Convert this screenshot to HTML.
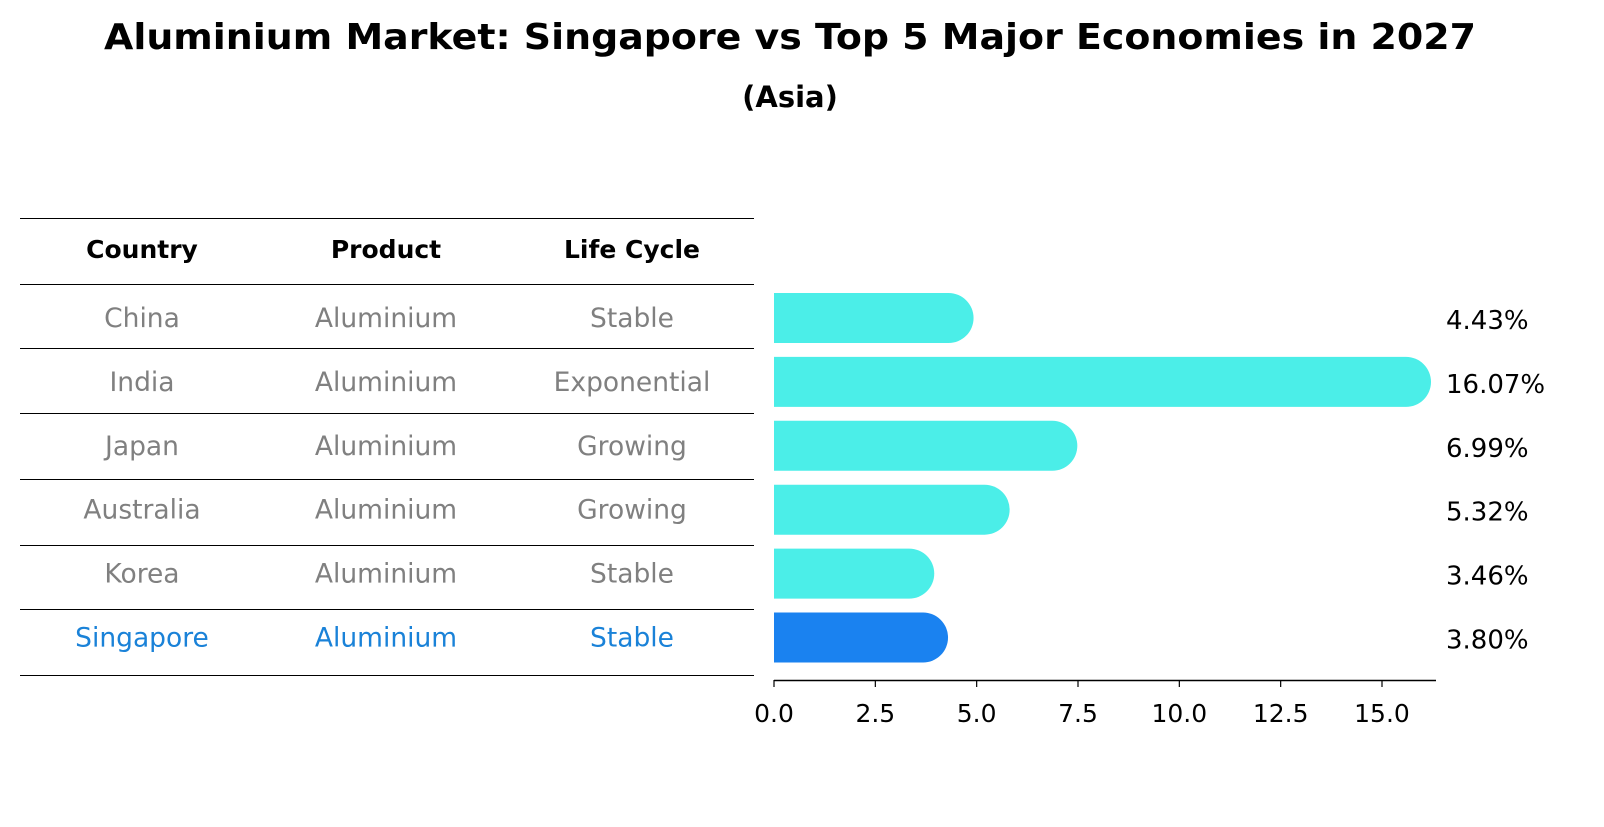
<!DOCTYPE html>
<html><head><meta charset="utf-8"><style>
body{margin:0;background:#fff;font-family:"DejaVu Sans","Liberation Sans",sans-serif;}
</style></head><body>
<svg width="1604" height="823" viewBox="0 0 1604 823" xmlns="http://www.w3.org/2000/svg">
<text x="790" y="49" text-anchor="middle" font-size="36" font-weight="bold" textLength="1372" lengthAdjust="spacingAndGlyphs" font-family="DejaVu Sans, sans-serif">Aluminium Market: Singapore vs Top 5 Major Economies in 2027</text>
<text x="790" y="107" text-anchor="middle" font-size="29" font-weight="bold" font-family="DejaVu Sans, sans-serif">(Asia)</text>
<g id="table"></g>
<g id="bars"></g>
<g id="labels"></g>
<g id="xaxis"></g>
</svg>
<script>
const countries=["China","India","Japan","Australia","Korea","Singapore"];
const products=["Aluminium","Aluminium","Aluminium","Aluminium","Aluminium","Aluminium"];
const lifecycles=["Stable","Exponential","Growing","Growing","Stable","Stable"];
const values=[4.43,16.07,6.99,5.32,3.46,3.80];
const ticks=[0,2.5,5,7.5,10,12.5,15];
const NS="http://www.w3.org/2000/svg";
const x=v=>774+v*(608/15);
const rowY=i=>318+i*63.9;
function mk(t,a,p){const e=document.createElementNS(NS,t);for(const k in a)e.setAttribute(k,a[k]);p.appendChild(e);return e;}
const tbl=document.getElementById('table');
const lineYs=[218,284,348,413,479,545,609,675];
lineYs.forEach(y=>{const l=mk('line',{x1:20,x2:754,y1:y+0.5,y2:y+0.5,stroke:'#000','stroke-width':1},tbl);

});
const colX=[142,386,632];
["Country","Product","Life Cycle"].forEach((h,j)=>{const t=mk('text',{x:colX[j],y:258,'text-anchor':'middle','font-size':25,'font-weight':'bold','font-family':'DejaVu Sans, sans-serif'},tbl);t.textContent=h;

});
countries.forEach((c,i)=>{const col=c==="Singapore"?'#1a82d8':'#808080';
[c,products[i],lifecycles[i]].forEach((s,j)=>{const t=mk('text',{x:colX[j],y:rowY(i)+9,'text-anchor':'middle','font-size':26.5,fill:col,'font-family':'DejaVu Sans, sans-serif'},tbl);t.textContent=s;

});});
const bars=document.getElementById('bars'),labs=document.getElementById('labels');
values.forEach((v,i)=>{const c=countries[i]==="Singapore"?'#1a82f0':'#4beee8';const h=50,y=rowY(i)-h/2;
const end=Math.min(x(v)+20,1431);
const p=mk('path',{d:`M774 ${y} H${end-25} A25 25 0 0 1 ${end-25} ${y+h} H774 Z`,fill:c},bars);


const t=mk('text',{x:1446,y:rowY(i)+11,'font-size':26,'font-family':'DejaVu Sans, sans-serif'},labs);t.textContent=v.toFixed(2)+'%';

});
const ax=document.getElementById('xaxis');
mk('line',{x1:774,x2:1436,y1:680.5,y2:680.5,stroke:'#000','stroke-width':1.5},ax);
ticks.forEach(v=>{mk('line',{x1:x(v),x2:x(v),y1:680,y2:687,stroke:'#000','stroke-width':1.2},ax);
const t=mk('text',{x:x(v),y:722,'text-anchor':'middle','font-size':25,'font-family':'DejaVu Sans, sans-serif'},ax);t.textContent=v.toFixed(1);

});
</script>
</body></html>
